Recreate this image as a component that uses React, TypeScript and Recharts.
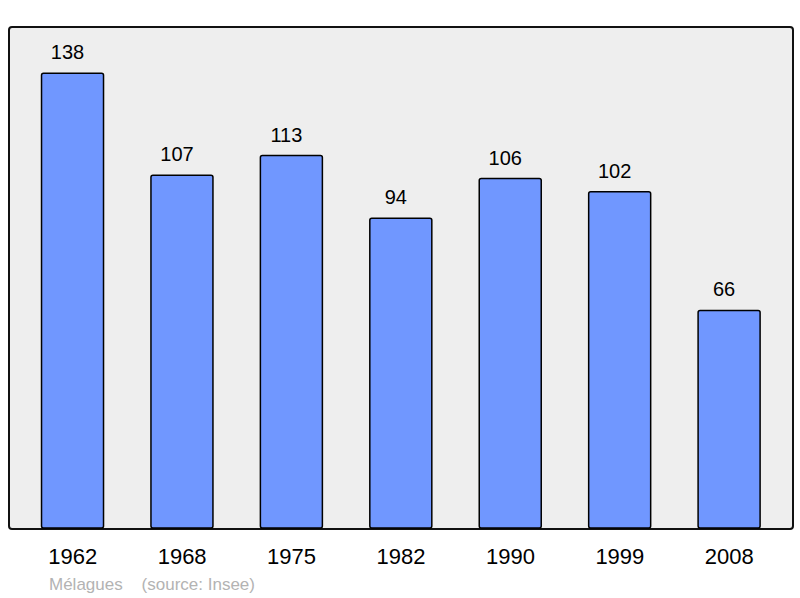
import { BarChart, Bar, XAxis, YAxis, LabelList } from 'recharts';

const years = ['1962', '1968', '1975', '1982', '1990', '1999', '2008'];
const population = [138, 107, 113, 94, 106, 102, 66];

const data = years.map((year, i) => ({ year, population: population[i] }));

const font = '"Liberation Sans", Arial, sans-serif';

// value label sits a little left of the bar centre, as in the original
const renderValue = (props: any) => {
  const { x, y, width, value } = props;
  return (
    <text
      x={x + width / 2 - 5}
      y={y - 14}
      textAnchor="middle"
      fill="#000"
      fontSize={20}
      fontFamily={font}
    >
      {value}
    </text>
  );
};

const App = () => {
  return (
    <div style={{ position: 'absolute', left: 0, top: 0, width: 800, height: 598, background: '#fff', fontFamily: font }}>
      <div
        style={{
          position: 'absolute',
          left: 8,
          top: 26,
          width: 782,
          height: 500,
          border: '2px solid #111',
          borderRadius: 4,
          background: '#eeeeee',
        }}
      />
      <div style={{ position: 'absolute', left: 0, top: 0 }}>
        <BarChart
          width={800}
          height={598}
          data={data}
          margin={{ top: 27, right: 8, bottom: 30, left: 9 }}
          barCategoryGap="21.5%"
        >
          <XAxis
            dataKey="year"
            axisLine={false}
            tickLine={false}
            tickSize={0}
            tickMargin={20}
            height={40}
            padding={{ left: 9, right: 8 }}
            tick={{ fill: '#000', fontSize: 22, fontFamily: font }}
          />
          <YAxis hide domain={[0, 152]} />
          <Bar
            dataKey="population"
            fill="#7097ff"
            stroke="#000"
            strokeWidth={1.5}
            radius={2}
            isAnimationActive={false}
          >
            <LabelList dataKey="population" content={renderValue} />
          </Bar>
        </BarChart>
      </div>
      <div style={{ position: 'absolute', left: 49, top: 575, fontSize: 17, color: '#b3b3b3', whiteSpace: 'pre' }}>
        {'Mélagues    (source: Insee)'}
      </div>
    </div>
  );
};

export default App;
